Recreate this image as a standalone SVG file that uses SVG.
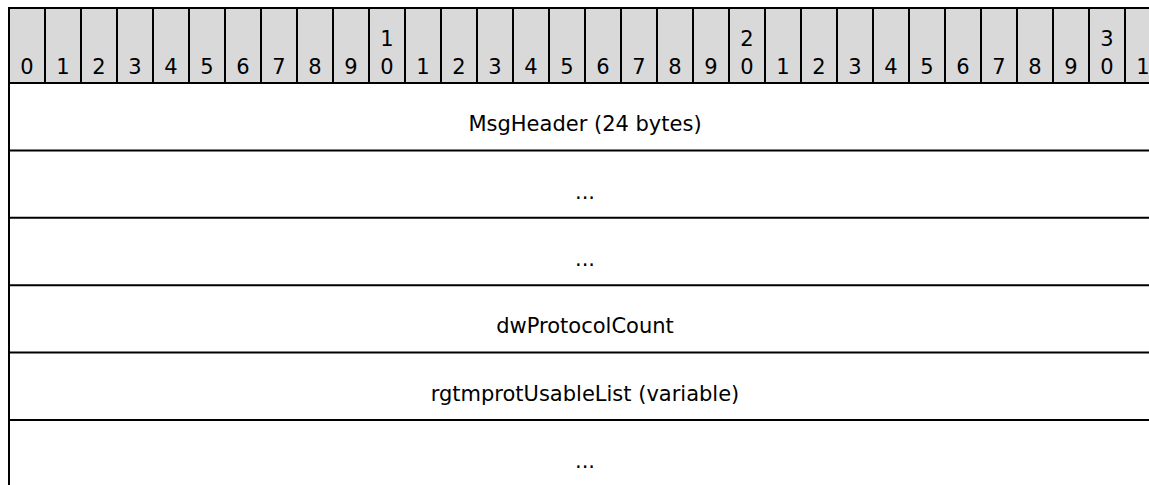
<svg xmlns="http://www.w3.org/2000/svg" width="1149" height="485" viewBox="0 0 1149 485">
<style>
.t{font-family:Verdana,"DejaVu Sans",sans-serif;font-size:21px;fill:#000;text-anchor:middle}
.ln{stroke:#000;stroke-width:2;fill:none}
.hd{fill:#d9d9d9}
</style>
<rect width="1149" height="485" fill="#fff"/>
<g id="header">
<rect class="hd" x="9" y="8" width="1152" height="75"/>
<path class="ln" d="M9 8V83M45 8V83M81 8V83M117 8V83M153 8V83M189 8V83M225 8V83M261 8V83M297 8V83M333 8V83M369 8V83M405 8V83M441 8V83M477 8V83M513 8V83M549 8V83M585 8V83M621 8V83M657 8V83M693 8V83M729 8V83M765 8V83M801 8V83M837 8V83M873 8V83M909 8V83M945 8V83M981 8V83M1017 8V83M1053 8V83M1089 8V83M1125 8V83M1161 8V83"/>
<path class="ln" d="M8 8H1161"/>
<g class="t">
<text x="27" y="74">0</text><text x="63" y="74">1</text><text x="99" y="74">2</text><text x="135" y="74">3</text><text x="171" y="74">4</text><text x="207" y="74">5</text><text x="243" y="74">6</text><text x="279" y="74">7</text><text x="315" y="74">8</text><text x="351" y="74">9</text>
<text x="387" y="46">1</text><text x="387" y="74">0</text>
<text x="423" y="74">1</text><text x="459" y="74">2</text><text x="495" y="74">3</text><text x="531" y="74">4</text><text x="567" y="74">5</text><text x="603" y="74">6</text><text x="639" y="74">7</text><text x="675" y="74">8</text><text x="711" y="74">9</text>
<text x="747" y="46">2</text><text x="747" y="74">0</text>
<text x="783" y="74">1</text><text x="819" y="74">2</text><text x="855" y="74">3</text><text x="891" y="74">4</text><text x="927" y="74">5</text><text x="963" y="74">6</text><text x="999" y="74">7</text><text x="1035" y="74">8</text><text x="1071" y="74">9</text>
<text x="1107" y="46">3</text><text x="1107" y="74">0</text>
<text x="1143" y="74">1</text>
</g>
</g>
<g id="connectors">
<path class="ln" d="M9 8V485"/>
<path class="ln" d="M8 83H1161M8 150.4H1161M8 217.8H1161M8 285.2H1161M8 352.6H1161M8 420H1161"/>
</g>
<g id="row-msgheader"><text class="t" x="585" y="131">MsgHeader (24 bytes)</text></g>
<g id="row-ellipsis-1"><text class="t" x="585" y="198.5">...</text></g>
<g id="row-ellipsis-2"><text class="t" x="585" y="265.5">...</text></g>
<g id="row-dwprotocolcount"><text class="t" x="585" y="333">dwProtocolCount</text></g>
<g id="row-rgtmprotusablelist"><text class="t" x="585" y="400.5">rgtmprotUsableList (variable)</text></g>
<g id="row-ellipsis-3"><text class="t" x="585" y="467.5">...</text></g>
</svg>
